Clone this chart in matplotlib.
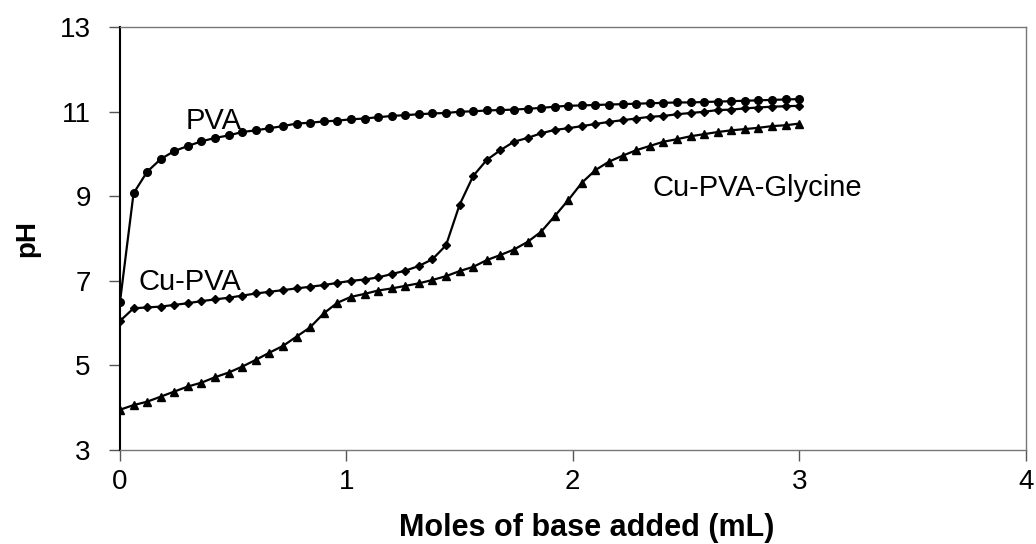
import numpy as np
import matplotlib
matplotlib.use('Agg')
import matplotlib.pyplot as plt

plt.rcParams['font.family'] = ['Liberation Sans', 'DejaVu Sans']

# base added (mL), one reading every 0.06 mL
base = np.arange(51) * 0.06

ph_pva = [6.50, 9.07, 9.58, 9.88, 10.07, 10.19, 10.30, 10.38, 10.44, 10.52,
          10.56, 10.61, 10.66, 10.72, 10.74, 10.77, 10.79, 10.82, 10.84, 10.87,
          10.90, 10.92, 10.94, 10.96, 10.97, 11.00, 11.01, 11.03, 11.04, 11.05,
          11.07, 11.09, 11.12, 11.14, 11.15, 11.16, 11.17, 11.18, 11.19, 11.20,
          11.21, 11.22, 11.22, 11.23, 11.24, 11.25, 11.26, 11.27, 11.28, 11.29,
          11.30]

ph_cupva = [6.05, 6.35, 6.37, 6.39, 6.43, 6.47, 6.52, 6.56, 6.60, 6.65,
            6.70, 6.74, 6.78, 6.82, 6.86, 6.90, 6.95, 7.00, 7.03, 7.08,
            7.16, 7.24, 7.35, 7.51, 7.84, 8.80, 9.48, 9.86, 10.09, 10.29,
            10.38, 10.49, 10.57, 10.61, 10.66, 10.71, 10.76, 10.80, 10.84, 10.88,
            10.90, 10.94, 10.97, 11.00, 11.04, 11.05, 11.08, 11.10, 11.12, 11.13,
            11.14]

ph_gly = [3.95, 4.06, 4.14, 4.26, 4.38, 4.50, 4.59, 4.72, 4.83, 4.97,
          5.13, 5.30, 5.46, 5.68, 5.90, 6.23, 6.48, 6.62, 6.69, 6.77,
          6.82, 6.88, 6.94, 7.02, 7.11, 7.23, 7.33, 7.49, 7.61, 7.74,
          7.92, 8.16, 8.53, 8.91, 9.32, 9.62, 9.82, 9.96, 10.09, 10.19,
          10.29, 10.35, 10.42, 10.47, 10.52, 10.56, 10.59, 10.62, 10.66, 10.68,
          10.72]

fig = plt.figure(figsize=(10.36, 5.44), dpi=100)
ax = fig.add_axes([0.1158, 0.173, 0.8742, 0.777])

ax.plot(base, ph_pva, color='black', lw=1.6, marker='o', ms=5.5)
ax.plot(base, ph_cupva, color='black', lw=1.6, marker='D', ms=3.8)
ax.plot(base, ph_gly, color='black', lw=1.6, marker='^', ms=5.5)

ax.text(0.29, 10.78, 'PVA', fontsize=21, ha='left', va='center')
ax.text(0.08, 6.97, 'Cu-PVA', fontsize=21, ha='left', va='center')
ax.text(2.35, 9.2, 'Cu-PVA-Glycine', fontsize=21, ha='left', va='center')

ax.set_xlim(0, 4)
ax.set_ylim(3, 13)
ax.set_xticks([0, 1, 2, 3, 4])
ax.set_yticks([3, 5, 7, 9, 11, 13])
ax.tick_params(labelsize=20, length=8, width=1, color='#555555', direction='out')
ax.tick_params(axis='x', pad=6)
ax.tick_params(axis='y', pad=13)
for s in ['top', 'right', 'bottom']:
    ax.spines[s].set_color('#777777')
    ax.spines[s].set_linewidth(1)
ax.spines['left'].set_color('black')
ax.spines['left'].set_linewidth(1.5)

ax.set_xlabel('Moles of base added (mL)', fontsize=22, fontweight='bold')
ax.xaxis.set_label_coords(0.515, -0.149)
ax.set_ylabel('pH', fontsize=20, fontweight='bold')
ax.yaxis.set_label_coords(-0.088, 0.5)

fig.savefig('out.png', dpi=100)
